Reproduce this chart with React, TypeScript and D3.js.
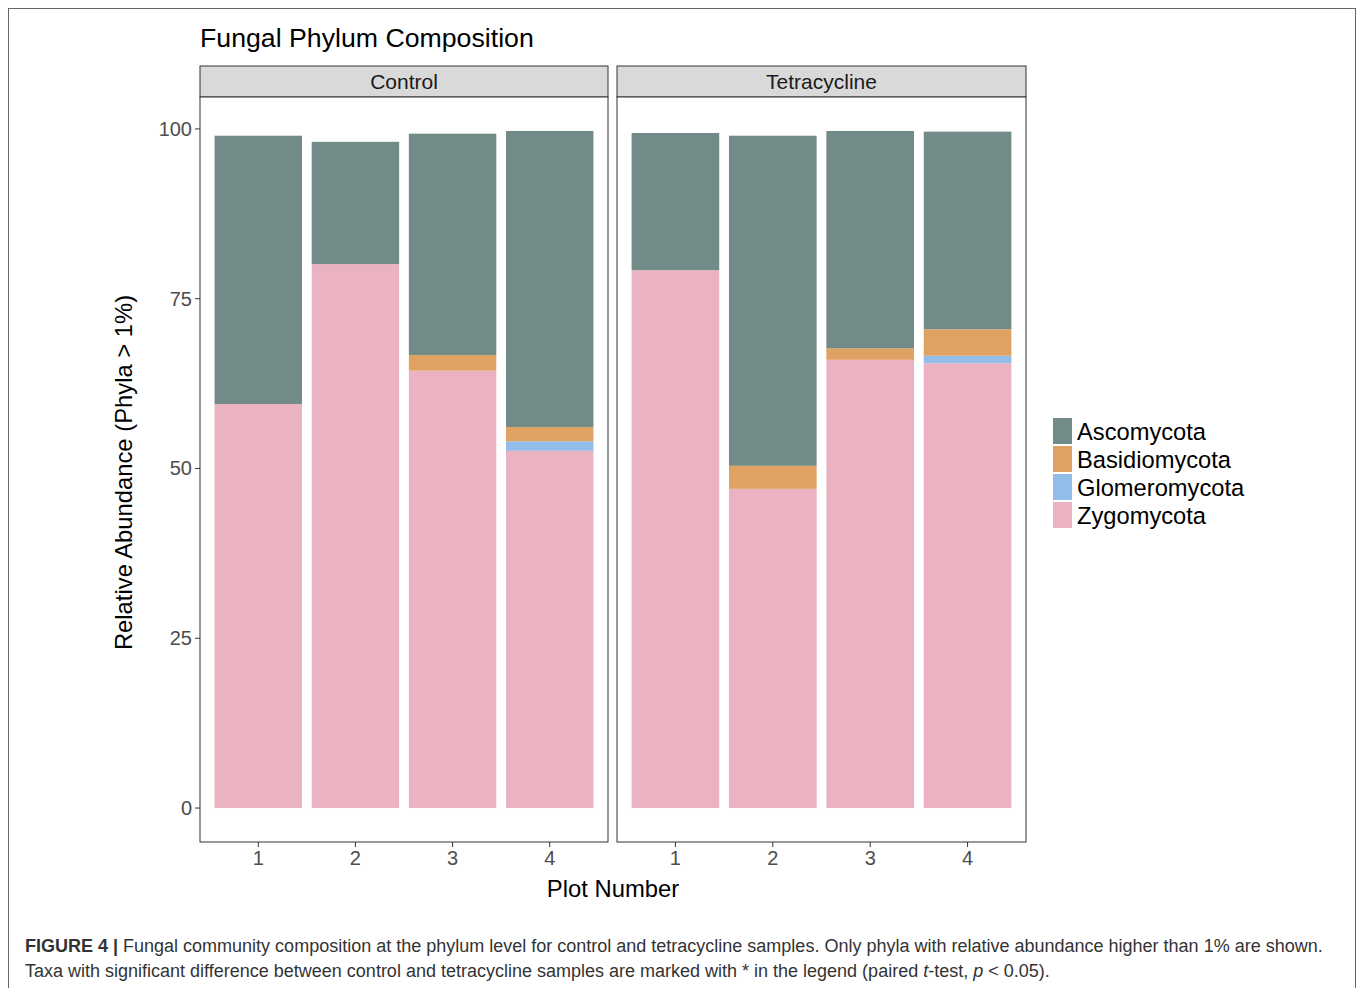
import React from "react";
import * as d3 from "d3";

const phyla = ["Ascomycota", "Basidiomycota", "Glomeromycota", "Zygomycota"];
const colors = ["#728a88", "#dfa263", "#92bde8", "#ebb3c2"];
const facets = ["Control", "Tetracycline"];
const plots = [1, 2, 3, 4];
const yTicks = [0, 25, 50, 75, 100];

// values per facet, per plot (%)
const zygomycota = [
  [59.5, 80.1, 64.4, 52.6],
  [79.2, 47.0, 66.0, 65.5],
];
const glomeromycota = [
  [0, 0, 0, 1.4],
  [0, 0, 0, 1.1],
];
const basidiomycota = [
  [0, 0, 2.3, 2.1],
  [0, 3.4, 1.7, 3.9],
];
const ascomycota = [
  [39.5, 18.0, 32.6, 43.6],
  [20.2, 48.6, 32.0, 29.1],
];

const font = "'Liberation Sans', Arial, Helvetica, sans-serif";

export default function App() {
  const W = 1358, H = 988;
  const panelTop = 97, panelBottom = 842;
  const panels = [
    { x0: 200, x1: 608 },
    { x0: 617, x1: 1026 },
  ];
  const y = d3.scaleLinear().domain([-5, 104.7]).range([panelBottom, panelTop]);

  const stackOrder = [zygomycota, glomeromycota, basidiomycota, ascomycota];
  const stackColors = [colors[3], colors[2], colors[1], colors[0]];

  return (
    <svg width={W} height={H} style={{ position: "absolute", left: 0, top: 0, background: "#fff" }} fontFamily={font}>
      <rect x={8.5} y={8.5} width={1347} height={990} fill="none" stroke="#666" strokeWidth={1} />
      <text x={200} y={47} fontSize={26.7} fill="#000">Fungal Phylum Composition</text>

      {facets.map((f, fi) => {
        const p = panels[fi];
        const x = d3.scaleLinear().domain([0.4, 4.6]).range([p.x0, p.x1]);
        const bw = x(1.45) - x(0.55);
        return (
          <g key={f}>
            <rect x={p.x0} y={66} width={p.x1 - p.x0} height={panelTop - 66} fill="#d9d9d9" stroke="#333" strokeWidth={1} />
            <text x={(p.x0 + p.x1) / 2} y={89} textAnchor="middle" fontSize={21} fill="#1a1a1a">{f}</text>
            <rect x={p.x0} y={panelTop} width={p.x1 - p.x0} height={panelBottom - panelTop} fill="#fff" stroke="#333" strokeWidth={1} />
            {plots.map((pl, i) => {
              let cum = 0;
              return (
                <g key={pl}>
                  {stackOrder.map((arr, si) => {
                    const v = arr[fi][i];
                    const b = cum;
                    cum += v;
                    if (v <= 0) return null;
                    return (
                      <rect key={si} x={x(pl) - bw / 2} y={y(cum)} width={bw} height={y(b) - y(cum)} fill={stackColors[si]} />
                    );
                  })}
                </g>
              );
            })}
            {plots.map((pl) => (
              <g key={"t" + pl}>
                <line x1={x(pl)} x2={x(pl)} y1={panelBottom} y2={panelBottom + 5} stroke="#333" />
                <text x={x(pl)} y={865} textAnchor="middle" fontSize={20} fill="#4d4d4d">{pl}</text>
              </g>
            ))}
          </g>
        );
      })}

      {yTicks.map((t) => (
        <g key={t}>
          <line x1={195} x2={200} y1={y(t)} y2={y(t)} stroke="#333" />
          <text x={192} y={y(t) + 7} textAnchor="end" fontSize={20} fill="#4d4d4d">{t}</text>
        </g>
      ))}

      <text x={613} y={897} textAnchor="middle" fontSize={23.8} fill="#000">Plot Number</text>
      <text transform={`translate(132, ${(panelTop + panelBottom) / 2 + 3}) rotate(-90)`} textAnchor="middle" fontSize={23.8} fill="#000">
        Relative Abundance (Phyla &gt; 1%)
      </text>

      {phyla.map((ph, i) => (
        <g key={ph}>
          <rect x={1053} y={418 + i * 28} width={19} height={26} fill={colors[i]} />
          <text x={1077} y={440 + i * 28} fontSize={23.7} fill="#000">{ph}</text>
        </g>
      ))}

      <text x={25} y={952} fontSize={18} fill="#333">
        <tspan fontWeight="bold">FIGURE 4 | </tspan>
        <tspan>Fungal community composition at the phylum level for control and tetracycline samples. Only phyla with relative abundance higher than 1% are shown.</tspan>
      </text>
      <text x={25} y={977} fontSize={18} fill="#333">
        Taxa with significant difference between control and tetracycline samples are marked with * in the legend (paired <tspan fontStyle="italic">t</tspan>-test, <tspan fontStyle="italic">p</tspan> &lt; 0.05).
      </text>
    </svg>
  );
}
